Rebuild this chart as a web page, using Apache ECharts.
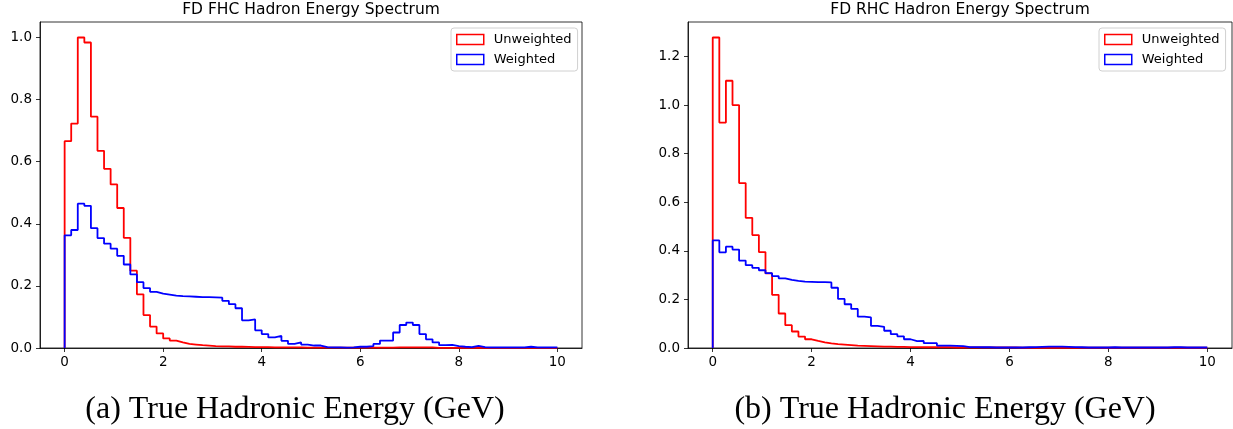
<!DOCTYPE html>
<html>
<head>
<meta charset="utf-8">
<script src="https://cdn.jsdelivr.net/npm/echarts@6/dist/echarts.min.js"></script>
<style>
  html, body { margin: 0; padding: 0; background: #fff; }
  #c { width: 1233px; height: 429px; }
</style>
</head>
<body>
<div id="c"></div>
<script>
// ---- Data (75 bins from 0 to 10 GeV) ----
const nBins = 75;
const xMinEdge = 0;
const xMaxEdge = 10;

const xTicks = [0, 2, 4, 6, 8, 10];
const fhcYTicks = [0, 0.2, 0.4, 0.6, 0.8, 1.0];
const rhcYTicks = [0, 0.2, 0.4, 0.6, 0.8, 1.0, 1.2];

const panelTitles = ['FD FHC Hadron Energy Spectrum', 'FD RHC Hadron Energy Spectrum'];
const captions = ['(a) True Hadronic Energy (GeV)', '(b) True Hadronic Energy (GeV)'];
const seriesNames = ['Unweighted', 'Weighted'];

const fhcUnweighted = [
  0.666, 0.723, 1.000, 0.984, 0.745, 0.635, 0.577, 0.527, 0.451, 0.355,
  0.249, 0.173, 0.106, 0.069, 0.047, 0.031, 0.024, 0.018, 0.013, 0.011,
  0.009, 0.0075, 0.006, 0.005, 0.005, 0.004, 0.004, 0.0035, 0.003, 0.003,
  0.0025, 0.002, 0.002, 0.002, 0.002, 0.002, 0.0015, 0.0015, 0.0015, 0.0015,
  0.0015, 0.0015, 0.0015, 0.0015, 0.0015, 0.0015, 0.001, 0.001, 0.001, 0.001,
  0.002, 0.002, 0.002, 0.002, 0.002, 0.002, 0.0007, 0.0007, 0.0007, 0.0007,
  0.0007, 0.0007, 0.0007, 0.0007, 0.0007, 0.0007, 0.0007, 0.0007, 0.0007, 0.0007,
  0.0007, 0.0007, 0.0007, 0.0007, 0.0007
];

const fhcWeighted = [
  0.363, 0.380, 0.465, 0.458, 0.386, 0.354, 0.336, 0.320, 0.297, 0.269,
  0.237, 0.212, 0.193, 0.181, 0.175, 0.172, 0.169, 0.167, 0.166, 0.165,
  0.164, 0.164, 0.163, 0.162, 0.152, 0.141, 0.128, 0.089, 0.092, 0.057,
  0.045, 0.034, 0.039, 0.023, 0.013, 0.018, 0.011, 0.008, 0.008, 0.003,
  0.002, 0.002, 0.001, 0.002, 0.004, 0.004, 0.006, 0.013, 0.024, 0.024,
  0.050, 0.074, 0.082, 0.074, 0.045, 0.028, 0.018, 0.009, 0.010, 0.006,
  0.004, 0.003, 0.007, 0.003, 0.002, 0.002, 0.002, 0.002, 0.002, 0.002,
  0.004, 0.002, 0.002, 0.002, 0.002
];

const rhcUnweighted = [
  1.278, 0.928, 1.100, 1.000, 0.679, 0.536, 0.465, 0.395, 0.307, 0.219,
  0.142, 0.094, 0.068, 0.047, 0.036, 0.029, 0.023, 0.019, 0.016, 0.014,
  0.012, 0.010, 0.009, 0.008, 0.007, 0.006, 0.006, 0.005, 0.005, 0.004,
  0.004, 0.003, 0.003, 0.003, 0.003, 0.003, 0.002, 0.002, 0.002, 0.002,
  0.002, 0.002, 0.002, 0.002, 0.002, 0.002, 0.001, 0.001, 0.001, 0.001,
  0.001, 0.001, 0.001, 0.001, 0.001, 0.001, 0.001, 0.001, 0.001, 0.001,
  0.001, 0.001, 0.001, 0.001, 0.001, 0.001, 0.001, 0.001, 0.001, 0.001,
  0.001, 0.001, 0.001, 0.001, 0.001
];

const rhcWeighted = [
  0.443, 0.394, 0.417, 0.405, 0.360, 0.341, 0.330, 0.320, 0.308, 0.296,
  0.287, 0.280, 0.276, 0.273, 0.272, 0.271, 0.271, 0.270, 0.248, 0.202,
  0.180, 0.161, 0.129, 0.126, 0.091, 0.087, 0.071, 0.057, 0.048, 0.036,
  0.028, 0.029, 0.020, 0.020, 0.010, 0.010, 0.009, 0.008, 0.004, 0.004,
  0.003, 0.003, 0.002, 0.002, 0.002, 0.002, 0.002, 0.003, 0.004, 0.005,
  0.006, 0.006, 0.006, 0.005, 0.004, 0.003, 0.002, 0.002, 0.002, 0.002,
  0.003, 0.002, 0.002, 0.002, 0.002, 0.002, 0.002, 0.002, 0.002, 0.003,
  0.003, 0.002, 0.002, 0.002, 0.002
];

// ---- Build step outlines from bin values ----
const binWidth = (xMaxEdge - xMinEdge) / nBins;
function stepData(values) {
  const pts = [[xMinEdge, 0]];
  values.forEach((v, i) => pts.push([xMinEdge + i * binWidth, v]));
  pts.push([xMaxEdge, values[values.length - 1]]);
  pts.push([xMaxEdge, 0]);
  return pts;
}

const RED = '#ff0000';
const BLUE = '#0000ff';
const FONT = 'DejaVu Sans';

const grids = [
  { left: 40, top: 22, width: 542, height: 326 },
  { left: 688, top: 22, width: 544, height: 326 }
];

function makeX(idx) {
  return {
    type: 'value', gridIndex: idx, min: -0.5, max: 10.5,
    axisLine: { show: true, onZero: false, lineStyle: { color: '#000', width: 0.8 } },
    axisTick: { show: true, length: 4, lineStyle: { color: '#000', width: 0.8 }, customValues: xTicks },
    axisLabel: { customValues: xTicks, color: '#000', fontSize: 13.5, fontFamily: FONT, margin: 7,
                 formatter: v => String(v) },
    splitLine: { show: false }
  };
}
function makeY(idx, ticks, maxVal) {
  return {
    type: 'value', gridIndex: idx, min: 0, max: maxVal * 1.05,
    axisLine: { show: true, onZero: false, lineStyle: { color: '#000', width: 0.8 } },
    axisTick: { show: true, length: 4, lineStyle: { color: '#000', width: 0.8 }, customValues: ticks },
    axisLabel: { customValues: ticks, color: '#000', fontSize: 13.5, fontFamily: FONT, margin: 8,
                 formatter: v => v.toFixed(1) },
    splitLine: { show: false }
  };
}

function lineSeries(name, values, color, idx) {
  return {
    name, type: 'line', xAxisIndex: idx, yAxisIndex: idx,
    data: stepData(values), step: 'end', symbol: 'none', showSymbol: false,
    lineStyle: { color, width: 1.8 }, itemStyle: { color },
    animation: false, silent: true
  };
}

function makeLegend(left) {
  return {
    left, top: 28, orient: 'vertical',
    backgroundColor: '#fff', borderColor: '#d0d0d0', borderWidth: 1, borderRadius: 3,
    padding: [5, 6, 5, 5], itemGap: 7, itemWidth: 27, itemHeight: 10,
    textStyle: { fontSize: 13, fontFamily: FONT, color: '#000', padding: [0, 0, 0, 5] },
    selectedMode: false,
    data: [
      { name: seriesNames[0], icon: 'rect', itemStyle: { color: '#fff', borderColor: RED, borderWidth: 1.5 } },
      { name: seriesNames[1], icon: 'rect', itemStyle: { color: '#fff', borderColor: BLUE, borderWidth: 1.5 } }
    ]
  };
}

const chart = echarts.init(document.getElementById('c'), null, { renderer: 'canvas' });
chart.setOption({
  animation: false,
  backgroundColor: '#fff',
  grid: grids.map(g => Object.assign({ show: true, borderColor: '#000', borderWidth: 0.8, backgroundColor: 'transparent', containLabel: false }, g)),
  xAxis: [makeX(0), makeX(1)],
  yAxis: [makeY(0, fhcYTicks, Math.max(...fhcUnweighted)), makeY(1, rhcYTicks, Math.max(...rhcUnweighted))],
  legend: [makeLegend(451), makeLegend(1099)],
  series: [
    lineSeries(seriesNames[0], fhcUnweighted, RED, 0),
    lineSeries(seriesNames[1], fhcWeighted, BLUE, 0),
    lineSeries(seriesNames[0], rhcUnweighted, RED, 1),
    lineSeries(seriesNames[1], rhcWeighted, BLUE, 1)
  ],
  graphic: [
    { type: 'text', x: 311, y: 9.5, style: { text: panelTitles[0], fontSize: 15.5, fontFamily: FONT, fill: '#000', align: 'center', verticalAlign: 'middle' } },
    { type: 'text', x: 960, y: 9.5, style: { text: panelTitles[1], fontSize: 15.5, fontFamily: FONT, fill: '#000', align: 'center', verticalAlign: 'middle' } },
    { type: 'text', x: 295, y: 410, style: { text: captions[0], fontSize: 32, fontFamily: 'Liberation Serif', fill: '#000', align: 'center', verticalAlign: 'middle' } },
    { type: 'text', x: 945, y: 410, style: { text: captions[1], fontSize: 32, fontFamily: 'Liberation Serif', fill: '#000', align: 'center', verticalAlign: 'middle' } }
  ]
});
</script>
</body>
</html>
